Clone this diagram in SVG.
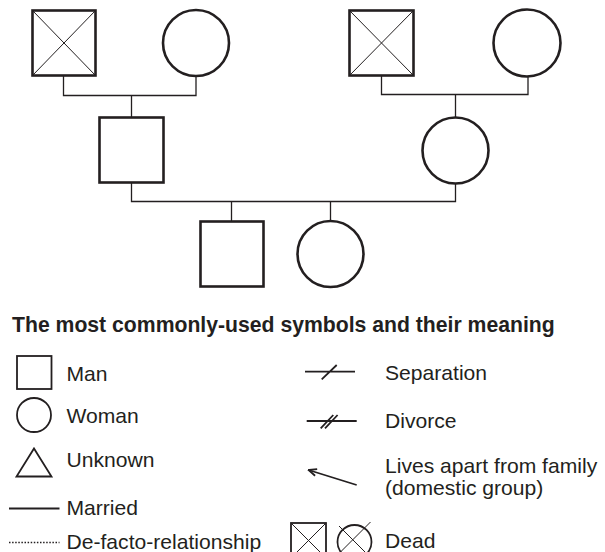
<svg xmlns="http://www.w3.org/2000/svg" width="605" height="552" viewBox="0 0 605 552">
  <style>
    .sym { fill: none; stroke: #231f20; stroke-width: 2.6; }
    .leg { fill: none; stroke: #231f20; stroke-width: 1.8; }
    .thin { fill: none; stroke: #231f20; stroke-width: 1; }
    .link { fill: none; stroke: #231f20; stroke-width: 1.3; }
    .lbl { font-family: "Liberation Sans", Arial, sans-serif; font-size: 21.1px; fill: #231f20; }
    .title { font-family: "Liberation Sans", Arial, sans-serif; font-size: 21.2px; font-weight: bold; fill: #231f20; }
  </style>
  <defs>
    <marker id="head" markerWidth="10" markerHeight="10" refX="9" refY="5" orient="auto" markerUnits="userSpaceOnUse">
      <path d="M1 1.5 L9 5 L1 8.5" fill="none" stroke="#231f20" stroke-width="1.8"/>
    </marker>
  </defs>

  <rect width="605" height="552" fill="#ffffff"/>

  <!-- family tree connectors -->
  <g id="connectors">
    <path class="link" d="M63.5 76 V95.5 H196 V76"/>
    <path class="link" d="M131.5 95.5 V117"/>
    <path class="link" d="M381.5 76 V94.5 H528 V76.5"/>
    <path class="link" d="M455.5 94.5 V117.5"/>
    <path class="link" d="M131.5 183 V201.5 H455.5 V184"/>
    <path class="link" d="M231.5 201.5 V221"/>
    <path class="link" d="M330.5 201.5 V221"/>
  </g>

  <!-- grandparents, father's side -->
  <g id="grandfather-paternal">
    <rect class="sym" x="32.5" y="10.5" width="63" height="65"/>
    <path class="thin" d="M32.5 10.5 L95.5 75.5 M95.5 10.5 L32.5 75.5"/>
  </g>
  <g id="grandmother-paternal">
    <circle class="sym" cx="196" cy="43" r="33"/>
  </g>

  <!-- grandparents, mother's side -->
  <g id="grandfather-maternal">
    <rect class="sym" x="349.5" y="10.5" width="64" height="65"/>
    <path class="thin" d="M349.5 10.5 L413.5 75.5 M413.5 10.5 L349.5 75.5"/>
  </g>
  <g id="grandmother-maternal">
    <circle class="sym" cx="527" cy="43" r="33.5"/>
  </g>

  <!-- parents -->
  <g id="father">
    <rect class="sym" x="99.5" y="117.5" width="64" height="65"/>
  </g>
  <g id="mother">
    <circle class="sym" cx="455.5" cy="150.5" r="33"/>
  </g>

  <!-- children -->
  <g id="son">
    <rect class="sym" x="200.5" y="221.5" width="63" height="65"/>
  </g>
  <g id="daughter">
    <circle class="sym" cx="330.5" cy="254" r="33"/>
  </g>

  <!-- legend -->
  <g id="legend">
    <text class="title" x="12" y="332">The most commonly-used symbols and their meaning</text>

    <rect class="leg" x="17" y="356" width="34.5" height="33"/>
    <text class="lbl" x="66.5" y="380.5">Man</text>

    <circle class="leg" cx="34" cy="415" r="17"/>
    <text class="lbl" x="66.5" y="423.3">Woman</text>

    <path class="leg" d="M34 448.5 L51.5 476.5 H16.5 Z"/>
    <text class="lbl" x="66.5" y="466.7">Unknown</text>

    <path class="leg" d="M9 508.5 H59.5"/>
    <text class="lbl" x="66.5" y="515">Married</text>

    <path d="M9 542.5 H59.5" fill="none" stroke="#231f20" stroke-width="1.5" stroke-dasharray="1.5 1.6"/>
    <text class="lbl" x="66.5" y="549">De-facto-relationship</text>

    <path class="leg" d="M305 371.7 H355 M321.7 379.3 L336.7 365"/>
    <text class="lbl" x="385" y="380">Separation</text>

    <path class="leg" d="M306.7 421 H356.7 M320.7 428.3 L333.3 415 M325 428.3 L337.6 415"/>
    <text class="lbl" x="385" y="427.7">Divorce</text>

    <path class="leg" d="M356.7 485 L308.5 470" marker-end="url(#head)"/>
    <text class="lbl" x="385" y="472.7">Lives apart from family</text>
    <text class="lbl" x="385" y="495">(domestic group)</text>

    <rect class="leg" x="291" y="523" width="35" height="35"/>
    <path class="thin" d="M291 523 L326 558 M326 523 L291 558"/>
    <circle class="leg" cx="354.5" cy="542" r="17"/>
    <path class="thin" d="M339 526 L370.5 557.5 M370.5 522 L339 553.5"/>
    <text class="lbl" x="385" y="548">Dead</text>
  </g>
</svg>
